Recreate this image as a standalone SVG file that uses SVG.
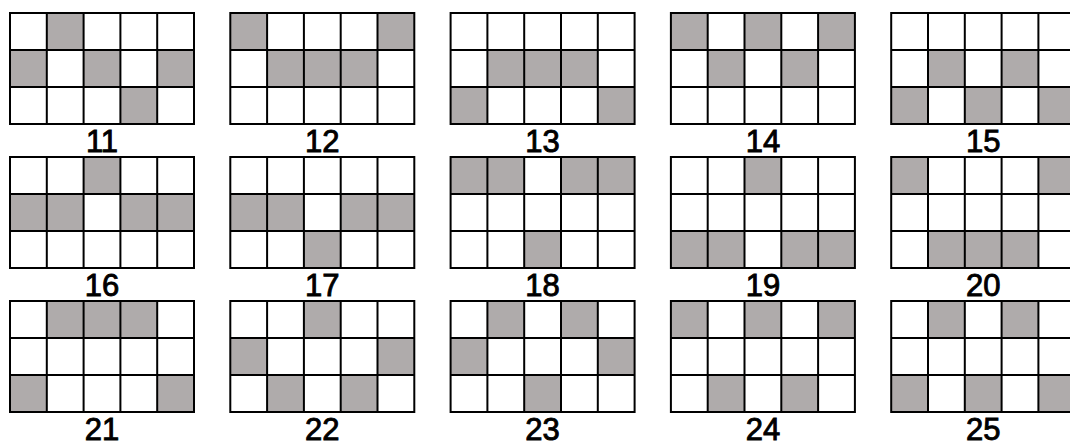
<svg xmlns="http://www.w3.org/2000/svg" xmlns:xlink="http://www.w3.org/1999/xlink" width="1070" height="441" viewBox="0 0 1070 441">
<style>
.g{fill:#afabab}
.ln{fill:none;stroke:#000;stroke-width:2}
.lbl{font-family:"Liberation Sans",Arial,sans-serif;font-size:31px;fill:#000;stroke:#000;stroke-width:0.9;text-anchor:middle}
</style>
<defs>
<g id="grid">
<path class="ln" d="M36.8 0V111M73.6 0V111M110.4 0V111M147.2 0V111M0 37H184M0 74H184"/>
<rect class="ln" x="0" y="0" width="184" height="111"/>
</g>
</defs>
<rect width="1070" height="441" fill="#fff"/>
<!-- row 1 -->
<g id="p11" transform="translate(10,13)">
<rect class="g" x="36.8" y="0" width="36.8" height="37"/>
<rect class="g" x="0" y="37" width="36.8" height="37"/>
<rect class="g" x="73.6" y="37" width="36.8" height="37"/>
<rect class="g" x="147.2" y="37" width="36.8" height="37"/>
<rect class="g" x="110.4" y="74" width="36.8" height="37"/>
<use xlink:href="#grid"/>
<text class="lbl" x="92" y="138.5">11</text>
</g>
<g id="p12" transform="translate(230.3,13)">
<rect class="g" x="0" y="0" width="36.8" height="37"/>
<rect class="g" x="147.2" y="0" width="36.8" height="37"/>
<rect class="g" x="36.8" y="37" width="110.4" height="37"/>
<use xlink:href="#grid"/>
<text class="lbl" x="92" y="138.5">12</text>
</g>
<g id="p13" transform="translate(450.6,13)">
<rect class="g" x="36.8" y="37" width="110.4" height="37"/>
<rect class="g" x="0" y="74" width="36.8" height="37"/>
<rect class="g" x="147.2" y="74" width="36.8" height="37"/>
<use xlink:href="#grid"/>
<text class="lbl" x="92" y="138.5">13</text>
</g>
<g id="p14" transform="translate(670.9,13)">
<rect class="g" x="0" y="0" width="36.8" height="37"/>
<rect class="g" x="73.6" y="0" width="36.8" height="37"/>
<rect class="g" x="147.2" y="0" width="36.8" height="37"/>
<rect class="g" x="36.8" y="37" width="36.8" height="37"/>
<rect class="g" x="110.4" y="37" width="36.8" height="37"/>
<use xlink:href="#grid"/>
<text class="lbl" x="92" y="138.5">14</text>
</g>
<g id="p15" transform="translate(891.2,13)">
<rect class="g" x="36.8" y="37" width="36.8" height="37"/>
<rect class="g" x="110.4" y="37" width="36.8" height="37"/>
<rect class="g" x="0" y="74" width="36.8" height="37"/>
<rect class="g" x="73.6" y="74" width="36.8" height="37"/>
<rect class="g" x="147.2" y="74" width="36.8" height="37"/>
<use xlink:href="#grid"/>
<text class="lbl" x="92" y="138.5">15</text>
</g>
<!-- row 2 -->
<g id="p16" transform="translate(10,157)">
<rect class="g" x="73.6" y="0" width="36.8" height="37"/>
<rect class="g" x="0" y="37" width="73.6" height="37"/>
<rect class="g" x="110.4" y="37" width="73.6" height="37"/>
<use xlink:href="#grid"/>
<text class="lbl" x="92" y="138.5">16</text>
</g>
<g id="p17" transform="translate(230.3,157)">
<rect class="g" x="0" y="37" width="73.6" height="37"/>
<rect class="g" x="110.4" y="37" width="73.6" height="37"/>
<rect class="g" x="73.6" y="74" width="36.8" height="37"/>
<use xlink:href="#grid"/>
<text class="lbl" x="92" y="138.5">17</text>
</g>
<g id="p18" transform="translate(450.6,157)">
<rect class="g" x="0" y="0" width="73.6" height="37"/>
<rect class="g" x="110.4" y="0" width="73.6" height="37"/>
<rect class="g" x="73.6" y="74" width="36.8" height="37"/>
<use xlink:href="#grid"/>
<text class="lbl" x="92" y="138.5">18</text>
</g>
<g id="p19" transform="translate(670.9,157)">
<rect class="g" x="73.6" y="0" width="36.8" height="37"/>
<rect class="g" x="0" y="74" width="73.6" height="37"/>
<rect class="g" x="110.4" y="74" width="73.6" height="37"/>
<use xlink:href="#grid"/>
<text class="lbl" x="92" y="138.5">19</text>
</g>
<g id="p20" transform="translate(891.2,157)">
<rect class="g" x="0" y="0" width="36.8" height="37"/>
<rect class="g" x="147.2" y="0" width="36.8" height="37"/>
<rect class="g" x="36.8" y="74" width="110.4" height="37"/>
<use xlink:href="#grid"/>
<text class="lbl" x="92" y="138.5">20</text>
</g>
<!-- row 3 -->
<g id="p21" transform="translate(10,301)">
<rect class="g" x="36.8" y="0" width="110.4" height="37"/>
<rect class="g" x="0" y="74" width="36.8" height="37"/>
<rect class="g" x="147.2" y="74" width="36.8" height="37"/>
<use xlink:href="#grid"/>
<text class="lbl" x="92" y="138.5">21</text>
</g>
<g id="p22" transform="translate(230.3,301)">
<rect class="g" x="73.6" y="0" width="36.8" height="37"/>
<rect class="g" x="0" y="37" width="36.8" height="37"/>
<rect class="g" x="147.2" y="37" width="36.8" height="37"/>
<rect class="g" x="36.8" y="74" width="36.8" height="37"/>
<rect class="g" x="110.4" y="74" width="36.8" height="37"/>
<use xlink:href="#grid"/>
<text class="lbl" x="92" y="138.5">22</text>
</g>
<g id="p23" transform="translate(450.6,301)">
<rect class="g" x="36.8" y="0" width="36.8" height="37"/>
<rect class="g" x="110.4" y="0" width="36.8" height="37"/>
<rect class="g" x="0" y="37" width="36.8" height="37"/>
<rect class="g" x="147.2" y="37" width="36.8" height="37"/>
<rect class="g" x="73.6" y="74" width="36.8" height="37"/>
<use xlink:href="#grid"/>
<text class="lbl" x="92" y="138.5">23</text>
</g>
<g id="p24" transform="translate(670.9,301)">
<rect class="g" x="0" y="0" width="36.8" height="37"/>
<rect class="g" x="73.6" y="0" width="36.8" height="37"/>
<rect class="g" x="147.2" y="0" width="36.8" height="37"/>
<rect class="g" x="36.8" y="74" width="36.8" height="37"/>
<rect class="g" x="110.4" y="74" width="36.8" height="37"/>
<use xlink:href="#grid"/>
<text class="lbl" x="92" y="138.5">24</text>
</g>
<g id="p25" transform="translate(891.2,301)">
<rect class="g" x="36.8" y="0" width="36.8" height="37"/>
<rect class="g" x="110.4" y="0" width="36.8" height="37"/>
<rect class="g" x="0" y="74" width="36.8" height="37"/>
<rect class="g" x="73.6" y="74" width="36.8" height="37"/>
<rect class="g" x="147.2" y="74" width="36.8" height="37"/>
<use xlink:href="#grid"/>
<text class="lbl" x="92" y="138.5">25</text>
</g>
</svg>
